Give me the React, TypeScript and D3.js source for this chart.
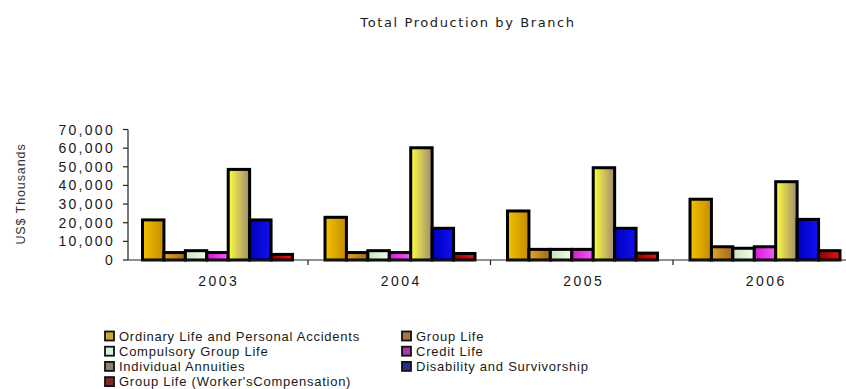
import React from "react";
import * as d3 from "d3";

const years = ["2003", "2004", "2005", "2006"];
const seriesNames = [
  "Ordinary Life and Personal Accidents",
  "Group Life",
  "Compulsory Group Life",
  "Credit Life",
  "Individual Annuities",
  "Disability and Survivorship",
  "Group Life (Worker'sCompensation)",
];
const ordinaryLife = [21500, 22900, 26300, 32600];
const groupLife = [4000, 4000, 5700, 7100];
const compulsoryGroupLife = [5000, 5000, 5700, 6300];
const creditLife = [4000, 4000, 5700, 7100];
const individualAnnuities = [48600, 60200, 49500, 42000];
const disability = [21500, 17000, 17000, 21800];
const workersComp = [3000, 3500, 3700, 5000];
const yTicks = [0, 10000, 20000, 30000, 40000, 50000, 60000, 70000];

const seriesValues = [ordinaryLife, groupLife, compulsoryGroupLife, creditLife, individualAnnuities, disability, workersComp];

const barGrad = [
  ["#f2c200", "#c48c00"],
  ["#e4a424", "#9a6a20"],
  ["#c4e4bc", "#f4faf0"],
  ["#d818d8", "#f060f0"],
  ["#ffff40", "#a08a70"],
  ["#0000c0", "#1010f0"],
  ["#900000", "#e01818"],
];
const legendFill = ["#c8a838", "#a87840", "#d8ece0", "#a838a8", "#908070", "#203090", "#802828"];

const legendOrder = [0, 2, 4, 6, 1, 3, 5];

export default function App() {
  const W = 846, H = 389;
  const x0 = d3.scaleBand().domain(years).range([125.5, 855.5]);
  const x1 = d3.scaleBand().domain(seriesNames).range([17, 167]);
  const y = d3.scaleLinear().domain([0, 70000]).range([260, 129.5]);
  const fmt = d3.format(",");
  const font = "'Liberation Sans', Arial, sans-serif";
  const tfont = "'DejaVu Sans', Verdana, sans-serif";

  return (
    <svg width={W} height={H} style={{ position: "absolute", left: 0, top: 0, background: "#fff" }}>
      <defs>
        {barGrad.map((g, i) => (
          <linearGradient key={i} id={`g${i}`} x1="0" x2="1" y1="0" y2="0">
            <stop offset="0" stopColor={g[0]} />
            <stop offset="1" stopColor={g[1]} />
          </linearGradient>
        ))}
      </defs>
      <text x={468} y={27} textAnchor="middle" fontFamily={tfont} fontSize={13} letterSpacing={1.6} fill="#1a1a1a">
        Total Production by Branch
      </text>
      <text transform="translate(24.5,194) rotate(-90)" textAnchor="middle" fontFamily={font} fontSize={12.5} letterSpacing={0.9} fill="#333">
        US$ Thousands
      </text>
      {/* y axis */}
      <line x1={128} x2={128} y1={y(70000)} y2={260} stroke="#222" strokeWidth={1.2} />
      {yTicks.map((t) => (
        <g key={t}>
          <line x1={123} x2={128} y1={y(t)} y2={y(t)} stroke="#222" strokeWidth={1.2} />
          <text x={115} y={y(t)} dy="0.36em" textAnchor="end" fontFamily={font} fontSize={14} letterSpacing={2.3} fill="#1a1a1a">
            {fmt(t)}
          </text>
        </g>
      ))}
      {/* bars */}
      {years.map((yr, yi) => (
        <g key={yr} transform={`translate(${x0(yr)},0)`}>
          {seriesNames.map((s, si) => {
            const v = seriesValues[si][yi];
            return (
              <rect
                key={s}
                x={x1(s)}
                y={y(v)}
                width={x1.bandwidth()}
                height={260 - y(v)}
                fill={`url(#g${si})`}
                stroke="#000"
                strokeWidth={3}
              />
            );
          })}
        </g>
      ))}
      {/* x axis */}
      <line x1={128} x2={846} y1={260} y2={260} stroke="#222" strokeWidth={1.2} />
      {years.slice(1).map((yr) => (
        <line key={yr} x1={x0(yr)} x2={x0(yr)} y1={260} y2={265} stroke="#222" strokeWidth={1.2} />
      ))}
      {years.map((yr) => (
        <text key={yr} x={(x0(yr) as number) + x0.bandwidth() / 2 + 2} y={286} textAnchor="middle" fontFamily={font} fontSize={14} letterSpacing={2.5} fill="#1a1a1a">
          {yr}
        </text>
      ))}
      {/* legend */}
      {legendOrder.map((si, k) => {
        const col = k < 4 ? 0 : 1;
        const row = k < 4 ? k : k - 4;
        const lx = col === 0 ? 104 : 401;
        const ly = 336 + row * 15.2;
        return (
          <g key={si}>
            <rect x={lx + 1} y={ly - 4.5} width={9} height={9} fill={legendFill[si]} stroke="#111" strokeWidth={1.8} />
            <text x={lx + 15} y={ly} dy="0.36em" fontFamily={font} fontSize={13} letterSpacing={0.75} fill="#1a1a1a">
              {seriesNames[si]}
            </text>
          </g>
        );
      })}
    </svg>
  );
}
